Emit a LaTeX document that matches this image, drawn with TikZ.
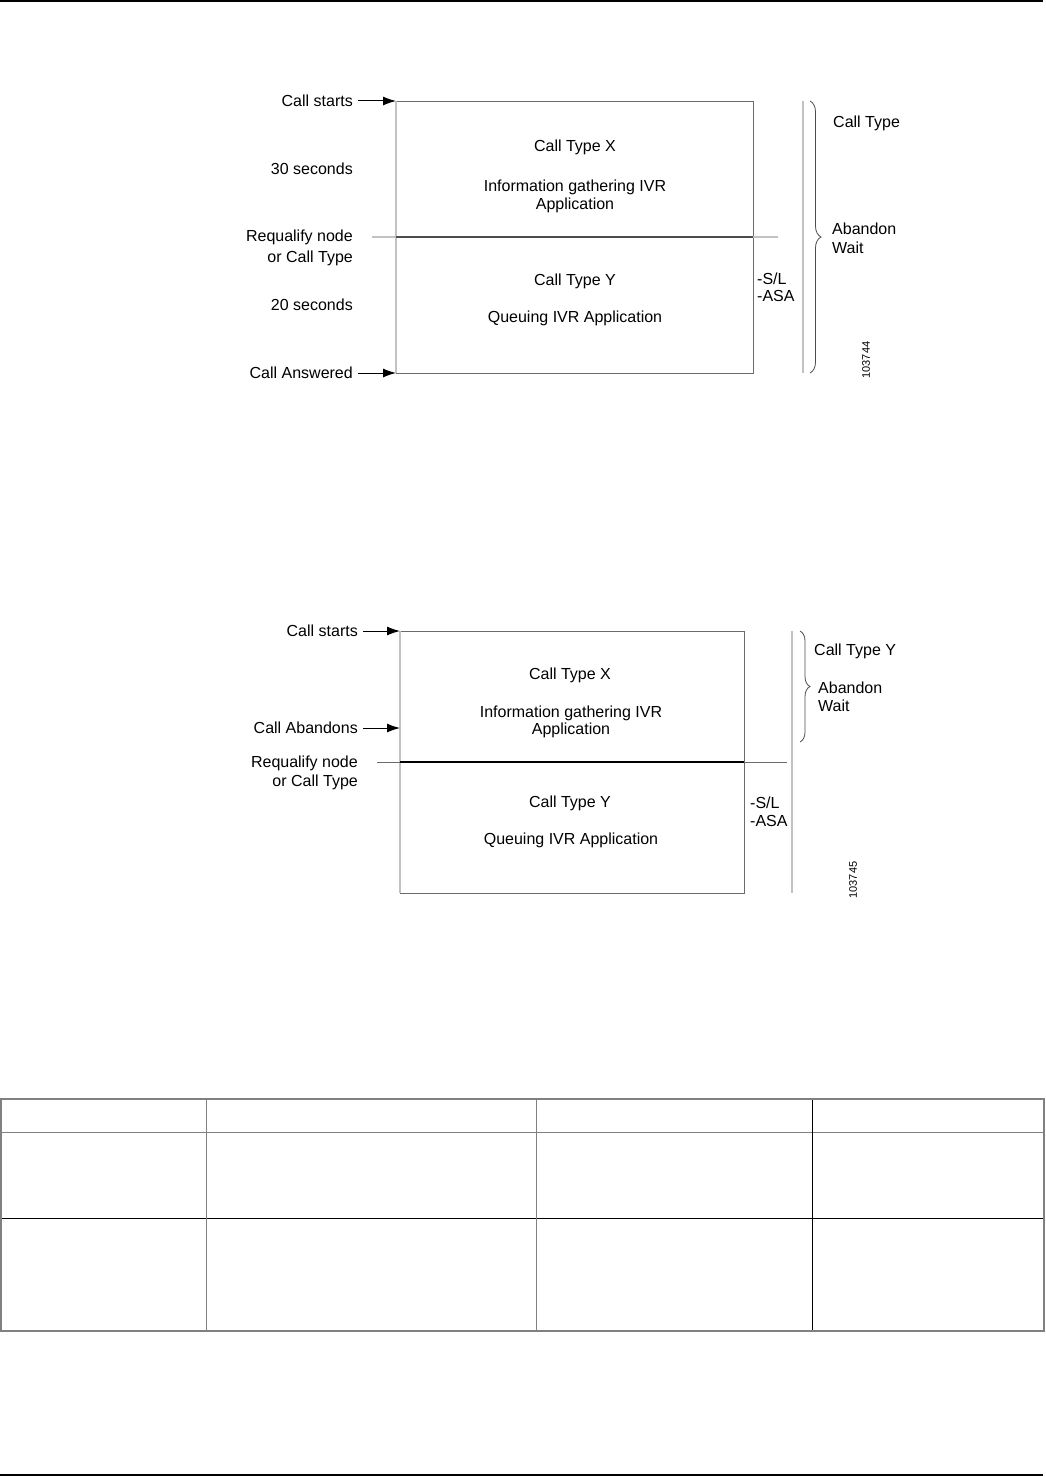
\documentclass[tikz,border=0pt]{standalone}
\usepackage{fontspec}
\setmainfont{Liberation Sans}
\usetikzlibrary{arrows.meta,decorations.pathreplacing}
\definecolor{lgray}{gray}{0.76}
\definecolor{mgray}{gray}{0.42}
\definecolor{dgray}{gray}{0.3}
\begin{document}
\begin{tikzpicture}[x=1pt,y=-1pt,
  lbl/.style={font=\fontsize{16}{18}\selectfont, inner sep=0pt},
  rl/.style={lbl, anchor=base east},
  cl/.style={lbl, anchor=base},
  ll/.style={lbl, anchor=base west},
  num/.style={font=\fontsize{11}{12}\selectfont, inner sep=0pt, rotate=90, anchor=center},
  arr/.style={line width=1pt, shorten <=5pt, -{Latex[length=13pt,width=9pt]}},
  mline/.style={draw=mgray, line width=0.9pt},
  lline/.style={draw=lgray, line width=1.6pt},
  brc/.style={draw=dgray, line width=0.8pt, decorate},
  tline/.style={draw=gray, line width=0.9pt},
  tblack/.style={draw=black, line width=0.9pt}]
\useasboundingbox (0,0) rectangle (1046,1477);

% page rules
\coordinate (R-a) at (0,1); \coordinate (R-b) at (1043,1);
\draw[line width=1.4pt] (R-a) -- (R-b);
\coordinate (R-c) at (0,1475); \coordinate (R-d) at (1043,1475);
\draw[line width=1.4pt] (R-c) -- (R-d);

% ---------------- top diagram ----------------
\coordinate (T-tl) at (396,101); \coordinate (T-tr) at (753,101);
\coordinate (T-bl) at (396,373); \coordinate (T-br) at (753,373);
\draw[mline] (T-tl) -- (T-tr) -- (T-br) -- (T-bl);
\draw[lline] (T-bl) -- (T-tl);
\coordinate (T-r0) at (372,237); \coordinate (T-rl) at (396,237);
\coordinate (T-rr) at (753,237); \coordinate (T-r1) at (778,237);
\draw[lline, line width=1.3pt] (T-r0) -- (T-rl);
\draw[draw=dgray, line width=1.6pt] (T-rl) -- (T-rr);
\draw[lline, line width=1.3pt] (T-rr) -- (T-r1);

\node[rl] (T-cs) at (353,106.5) {Call starts};
\node[rl] (T-30) at (353,174.5) {30 seconds};
\node[rl] (T-rq1) at (353,241.5) {Requalify node};
\node[rl] (T-rq2) at (353,262) {or Call Type};
\node[rl] (T-20) at (353,310.5) {20 seconds};
\node[rl] (T-ca) at (353,378.5) {Call Answered};
\draw[arr] (T-cs.east |- T-tl) -- (T-tl);
\draw[arr] (T-ca.east |- T-bl) -- (T-bl);

\node[cl] (T-x) at (575,151.5) {Call Type X};
\node[cl] (T-ig) at (575,191.5) {Information gathering IVR};
\node[cl] (T-ap) at (575,209.5) {Application};
\node[cl] (T-y) at (575,285.5) {Call Type Y};
\node[cl] (T-q) at (575,322.5) {Queuing IVR Application};
\node[ll] (T-sl) at (757,284.5) {-S/L};
\node[ll] (T-asa) at (757,301) {-ASA};

\coordinate (T-vt) at (803,101); \coordinate (T-vb) at (803,373);
\draw[lline] (T-vt) -- (T-vb);
\coordinate (T-bt) at (810,101); \coordinate (T-bb) at (810,373);
\draw[brc, decoration={brace,amplitude=11pt}] (T-bt) -- (T-bb);
\node[ll] (T-ct) at (833,127.5) {Call Type};
\node[ll] (T-ab) at (832,234.5) {Abandon};
\node[ll] (T-w) at (832,253.5) {Wait};
\node[num] (T-n) at (866,360) {103744};

% ---------------- bottom diagram ----------------
\coordinate (B-tl) at (400,631); \coordinate (B-tr) at (744,631);
\coordinate (B-bl) at (400,893); \coordinate (B-br) at (744,893);
\draw[mline] (B-tl) -- (B-tr) -- (B-br) -- (B-bl);
\draw[lline] (B-bl) -- (B-tl);
\coordinate (B-ab) at (400,728);
\coordinate (B-r0) at (377,762); \coordinate (B-rl) at (400,762);
\coordinate (B-rr) at (744,762); \coordinate (B-r1) at (787,762);
\draw[mline] (B-r0) -- (B-rl);
\draw[draw=black, line width=1.1pt] (B-rl) -- (B-rr);
\draw[mline] (B-rr) -- (B-r1);

\node[rl] (B-cs) at (358,636.5) {Call starts};
\node[rl] (B-ca) at (358,733.5) {Call Abandons};
\node[rl] (B-rq1) at (358,767.5) {Requalify node};
\node[rl] (B-rq2) at (358,786.5) {or Call Type};
\draw[arr] (B-cs.east |- B-tl) -- (B-tl);
\draw[arr] (B-ca.east |- B-ab) -- (B-ab);

\node[cl] (B-x) at (570,679.5) {Call Type X};
\node[cl] (B-ig) at (571,717.5) {Information gathering IVR};
\node[cl] (B-ap) at (571,734.5) {Application};
\node[cl] (B-y) at (570,807.5) {Call Type Y};
\node[cl] (B-q) at (571,844.5) {Queuing IVR Application};
\node[ll] (B-sl) at (750,808) {-S/L};
\node[ll] (B-asa) at (750,826) {-ASA};

\coordinate (B-vt) at (792,631); \coordinate (B-vb) at (792,893);
\draw[lline] (B-vt) -- (B-vb);
\coordinate (B-bt) at (800,631); \coordinate (B-bb) at (800,742);
\draw[brc, decoration={brace,amplitude=10pt}] (B-bt) -- (B-bb);
\node[ll] (B-ct) at (814,655.5) {Call Type Y};
\node[ll] (B-abn) at (818,693.5) {Abandon};
\node[ll] (B-w) at (818,711.5) {Wait};
\node[num] (B-n) at (853,880) {103745};

% ---------------- table ----------------
\coordinate (K-00) at (1,1099); \coordinate (K-01) at (1044,1331);
\coordinate (K-h0) at (1,1132); \coordinate (K-h1) at (1044,1132);
\coordinate (K-s0) at (1,1218); \coordinate (K-s1) at (1044,1218);
\coordinate (K-c1t) at (206,1099); \coordinate (K-c1b) at (206,1331);
\coordinate (K-c2t) at (536,1099); \coordinate (K-c2b) at (536,1331);
\coordinate (K-c3t) at (812,1099); \coordinate (K-c3b) at (812,1331);
\draw[tline] (K-h0) -- (K-h1);
\draw[tblack] (K-s0) -- (K-s1);
\draw[tline] (K-c1t) -- (K-c1b);
\draw[tline] (K-c2t) -- (K-c2b);
\draw[tblack] (K-c3t) -- (K-c3b);
\draw[draw=gray, line width=1.4pt] (K-00) rectangle (K-01);
\end{tikzpicture}
\end{document}
